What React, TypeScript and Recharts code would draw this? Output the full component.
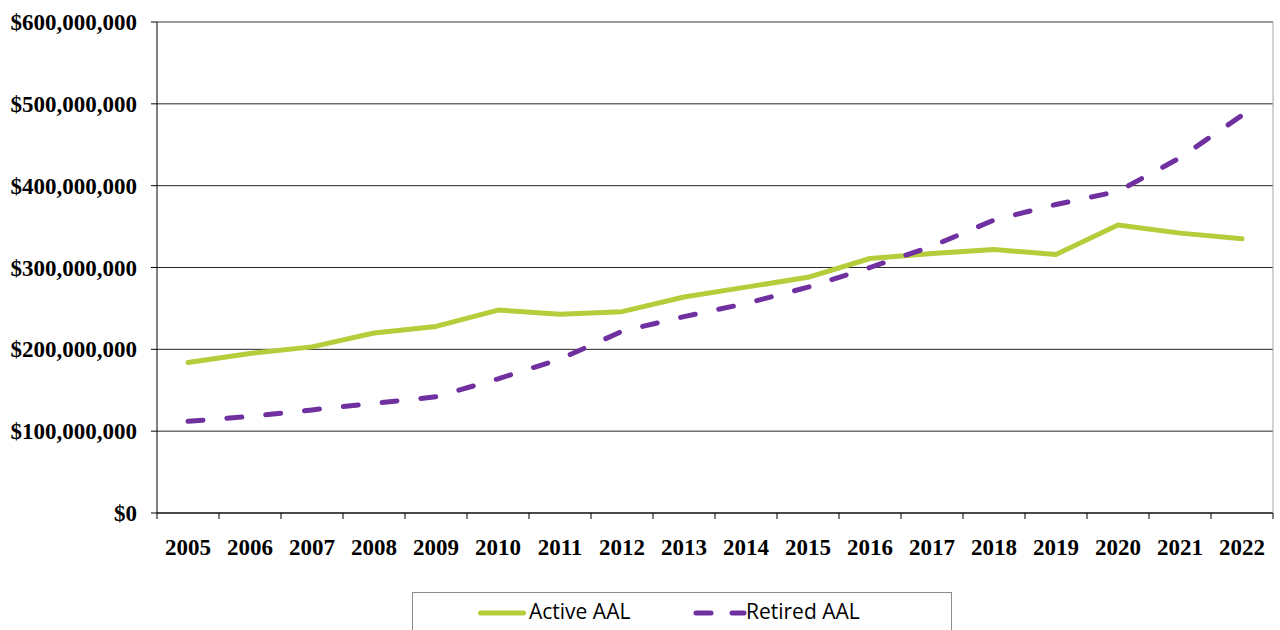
import React from "react";
import {
  LineChart,
  Line,
  XAxis,
  YAxis,
  CartesianGrid,
  ReferenceLine,
  Legend,
} from "recharts";

// Accrued liability by year, in millions of dollars
const years = [
  "2005", "2006", "2007", "2008", "2009", "2010", "2011", "2012", "2013",
  "2014", "2015", "2016", "2017", "2018", "2019", "2020", "2021", "2022",
];
const activeAAL = [
  184, 195, 203, 220, 228, 248, 243, 246, 264, 276, 288, 311, 317, 322, 316,
  352, 342, 335,
];
const retiredAAL = [
  112, 118, 126, 134, 142, 164, 188, 222, 240, 256, 276, 300, 326, 358, 377,
  393, 434, 486,
];
const yTicks = [0, 100, 200, 300, 400, 500, 600].map((v) => v * 1000000);

const data = years.map((year, i) => ({
  year,
  active: activeAAL[i] * 1000000,
  retired: retiredAAL[i] * 1000000,
}));

const GREEN = "#B5CD3A";
const PURPLE = "#7030A0";
const SERIF = "'Liberation Serif', 'Times New Roman', serif";
const SANS = "'Open Sans', 'Noto Sans', sans-serif";

const CHART_W = 1280;
const CHART_H = 630;
const Y_AXIS_W = 157;
const RIGHT_W = 7;
const BAND = (CHART_W - Y_AXIS_W - RIGHT_W) / years.length;

const formatDollars = (v: number) => "$" + v.toLocaleString("en-US");

// Year label with tick marks on the band boundaries
const YearTick = ({ x, y, payload, index }: any) => {
  const axisY = y - 10;
  return (
    <g>
      <line x1={x - BAND / 2} x2={x - BAND / 2} y1={axisY} y2={axisY + 6} stroke="#000" />
      {index === years.length - 1 && (
        <line x1={x + BAND / 2} x2={x + BAND / 2} y1={axisY} y2={axisY + 6} stroke="#000" />
      )}
      <text
        x={x}
        y={y + 32}
        textAnchor="middle"
        fontFamily={SERIF}
        fontWeight={700}
        fontSize={23}
        fill="#000"
      >
        {payload.value}
      </text>
    </g>
  );
};

const LegendBox = () => (
  <div
    style={{
      position: "relative",
      width: 540,
      height: 50,
      border: "1px solid #8c8c8c",
      boxSizing: "border-box",
      background: "#fff",
      fontFamily: SANS,
      fontSize: 21,
      color: "#000",
    }}
  >
    <svg style={{ position: "absolute", left: 60, top: 10 }} width={60} height={20}>
      <line x1={7.5} x2={50.5} y1={10} y2={10} stroke={GREEN} strokeWidth={5} strokeLinecap="round" />
    </svg>
    <span style={{ position: "absolute", left: 116, top: 3, lineHeight: "30px" }}>
      Active AAL
    </span>
    <svg style={{ position: "absolute", left: 278, top: 10 }} width={60} height={20}>
      <line
        x1={5}
        x2={53}
        y1={10}
        y2={10}
        stroke={PURPLE}
        strokeWidth={5}
        strokeLinecap="round"
        strokeDasharray="15 21"
      />
    </svg>
    <span style={{ position: "absolute", left: 333, top: 3, lineHeight: "30px" }}>
      Retired AAL
    </span>
  </div>
);

export default function App() {
  return (
    <div style={{ position: "absolute", left: 0, top: 0, background: "#fff" }}>
      <LineChart
        width={CHART_W}
        height={CHART_H}
        data={data}
        margin={{ top: 22, right: 0, bottom: 67, left: 0 }}
      >
        <CartesianGrid vertical={false} stroke="#262626" />
        <XAxis
          dataKey="year"
          interval={0}
          height={50}
          padding={{ left: BAND / 2, right: BAND / 2 }}
          tickSize={6}
          tickMargin={4}
          tickLine={false}
          axisLine={{ stroke: "#000" }}
          tick={<YearTick />}
        />
        <YAxis
          width={Y_AXIS_W}
          domain={[0, 600000000]}
          ticks={yTicks}
          tickFormatter={formatDollars}
          tickSize={6}
          tickMargin={14}
          tickLine={{ stroke: "#000" }}
          axisLine={{ stroke: "#000" }}
          tick={{ fill: "#000", fontFamily: SERIF, fontSize: 23, fontWeight: 700 }}
        />
        <YAxis
          yAxisId="right"
          orientation="right"
          width={RIGHT_W}
          domain={[0, 600000000]}
          tick={false}
          tickLine={false}
          axisLine={{ stroke: "#A6A6A6" }}
        />
        <ReferenceLine y={600000000} stroke="#A6A6A6" />
        <Line
          type="linear"
          dataKey="active"
          name="Active AAL"
          stroke={GREEN}
          strokeWidth={5}
          strokeLinejoin="round"
          strokeLinecap="round"
          dot={false}
          activeDot={false}
          isAnimationActive={false}
        />
        <Line
          type="linear"
          dataKey="retired"
          name="Retired AAL"
          stroke={PURPLE}
          strokeWidth={5}
          strokeDasharray="15 24"
          strokeLinejoin="round"
          strokeLinecap="round"
          dot={false}
          activeDot={false}
          isAnimationActive={false}
        />
        <Legend
          layout="vertical"
          verticalAlign="middle"
          align="center"
          content={<LegendBox />}
          wrapperStyle={{ position: "absolute", left: 412, top: 592, width: 540, height: 50 }}
        />
      </LineChart>
    </div>
  );
}
